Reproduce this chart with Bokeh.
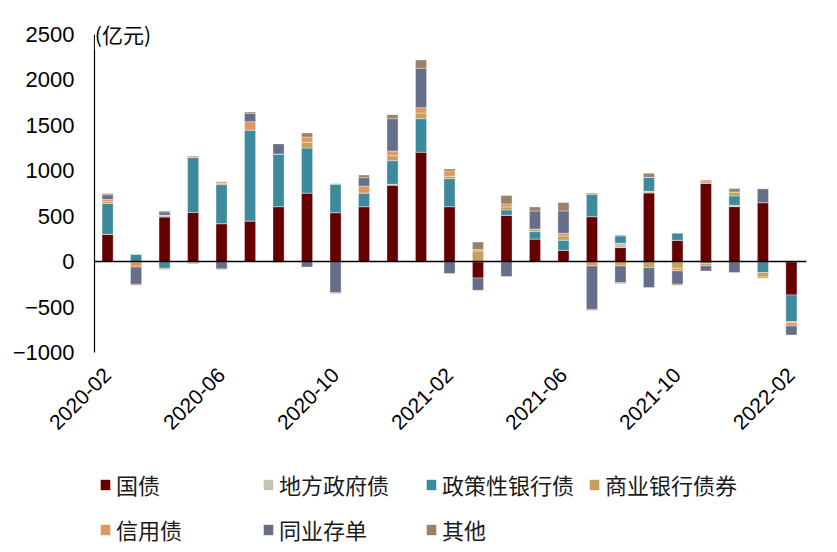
import numpy as np
from bokeh.plotting import figure
from bokeh.layouts import column
from bokeh.models import ColumnDataSource, Legend, LegendItem, FixedTicker, Span, Label
from bokeh.embed import file_html
from bokeh.resources import INLINE

months = ["2020-02", "2020-03", "2020-04", "2020-05", "2020-06", "2020-07", "2020-08",
          "2020-09", "2020-10", "2020-11", "2020-12", "2021-01", "2021-02", "2021-03",
          "2021-04", "2021-05", "2021-06", "2021-07", "2021-08", "2021-09", "2021-10",
          "2021-11", "2021-12", "2022-01", "2022-02"]

names = ["国债", "地方政府债", "政策性银行债", "商业银行债券", "信用债", "同业存单", "其他"]
colors = ["#660000", "#C4C4B4", "#3D8A9C", "#C4A25E", "#E0985E", "#666E8A", "#9C8068"]

guozhai   = [300, 0, 490, 540, 418, 447, 605, 755, 539, 605, 840, 1203, 605, -180, 510, 249, 125, 495, 154, 755, 235, 862, 605, 649, -367]
difang    = [0, 0, 20, -10, 0, 0, 0, 0, 0, 0, 11, -10, 0, 0, 0, 0, 0, 0, 48, 18, 0, 0, 15, 0, 0]
zhengce   = [340, 80, -73, 605, 429, 1001, 580, 495, 312, 150, 260, 370, 308, 0, 59, 81, 110, 246, 81, 154, 77, -22, 103, -121, -293]
shangye   = [20, 0, -15, 0, 15, 0, 0, 62, 11, 0, 55, 62, 26, 117, 33, 29, 48, 15, 11, -66, -73, 18, 44, -48, -11]
xinyong   = [25, -60, 0, 0, 18, 92, 0, 59, 0, 77, 51, 59, 59, 15, 33, 0, 29, -48, -48, 0, -29, -26, 0, -15, -37]
tongye    = [50, -190, 37, -10, -80, 92, 110, -59, -341, 92, 356, 433, -132, -136, -165, 198, 246, -477, -183, -220, -147, -55, -121, 154, -99]
qita      = [15, -10, 10, 15, -8, 15, -10, 44, -11, 29, 44, 92, 22, 84, 92, 44, 92, -11, -11, 44, -11, 15, 37, 0, 0]

series = [guozhai, difang, zhengce, shangye, xinyong, tongye, qita]

tick_idx = [0, 4, 8, 12, 16, 20, 24]
y_ticks = [-1000, -500, 0, 500, 1000, 1500, 2000, 2500]

FONT = "Liberation Sans"
CJK = "Noto Sans CJK SC"

p = figure(width=821, height=460, output_backend="svg", toolbar_location=None,
           x_range=(-0.46, len(months) - 1 + 0.53), y_range=(-1000, 2620),
           min_border_left=94, min_border_right=15, min_border_top=23, min_border_bottom=108)

x = np.arange(len(months))
pos = np.zeros(len(months))
neg = np.zeros(len(months))
for name, vals, col in zip(names, series, colors):
    v = np.array(vals, dtype=float)
    bottom = np.where(v >= 0, pos, neg + v)
    top = np.where(v >= 0, pos + v, neg)
    pos = pos + np.clip(v, 0, None)
    neg = neg + np.clip(v, None, 0)
    src = ColumnDataSource(dict(x=x, bottom=bottom, top=top))
    p.vbar(x="x", bottom="bottom", top="top", width=0.39, source=src,
           fill_color=col, line_color="white", line_width=0.6, line_alpha=0.6)

p.add_layout(Span(location=0, dimension="width", line_color="black", line_width=1.5))

p.grid.visible = False
p.outline_line_color = None
p.background_fill_color = "white"
p.border_fill_color = "white"

# y axis
p.yaxis.ticker = FixedTicker(ticks=y_ticks)
p.yaxis.bounds = (-1000, 2500)
p.yaxis.major_tick_line_color = None
p.yaxis.major_tick_out = 0
p.yaxis.major_tick_in = 0
p.yaxis.minor_tick_line_color = None
p.yaxis.axis_line_color = "black"
p.yaxis.axis_line_width = 1.2
p.yaxis.major_label_text_font = FONT
p.yaxis.major_label_text_font_size = "22px"
p.yaxis.major_label_text_color = "#000000"
p.yaxis.major_label_standoff = 20

# x axis
p.xaxis.ticker = FixedTicker(ticks=tick_idx)
p.xaxis.major_label_overrides = {i: months[i] for i in tick_idx}
p.xaxis.major_label_orientation = np.pi / 4
p.xaxis.major_tick_line_color = None
p.xaxis.major_tick_out = 0
p.xaxis.major_tick_in = 0
p.xaxis.minor_tick_line_color = None
p.xaxis.axis_line_color = None
p.xaxis.major_label_text_font = FONT
p.xaxis.major_label_text_font_size = "21px"
p.xaxis.major_label_text_color = "#000000"
p.xaxis.major_label_standoff = 19

p.add_layout(Label(x=-0.45, y=2500, text="(亿元)", text_font=CJK, text_font_size="21px",
                   text_baseline="middle", text_align="left", text_color="#000000",
                   background_fill_color="white"))

# legend figure (frame is aligned with the main frame by the column layout)
lg = figure(width=821, height=88, output_backend="svg", toolbar_location=None,
            x_range=(0, 1), y_range=(0, 1), x_axis_location=None, y_axis_location=None,
            min_border_left=0, min_border_right=0, min_border_top=0, min_border_bottom=0)
lg.grid.visible = False
lg.outline_line_color = None
dummy = ColumnDataSource(dict(x=[0.5], bottom=[0], top=[0]))
rend = {}
for name, col in zip(names, colors):
    rend[name] = lg.vbar(x="x", bottom="bottom", top="top", width=0.001, source=dummy,
                         fill_color=col, line_color=None)

order = ["国债", "信用债", "地方政府债", "同业存单", "政策性银行债", "其他", "商业银行债券"]
items = [LegendItem(label=n, renderers=[rend[n]]) for n in order]
legend = Legend(items=items, ncols=4, location=(5, 3),
                glyph_width=12, glyph_height=13, label_standoff=5, label_width=133,
                label_height=23, spacing=13, padding=0, margin=0,
                label_text_font=CJK, label_text_font_size="22px", label_text_color="#1a1a1a",
                border_line_color=None, background_fill_alpha=0)
lg.add_layout(legend, "center")

layout = column(p, lg, spacing=0)
open("out.html", "w").write(file_html(layout, INLINE))
